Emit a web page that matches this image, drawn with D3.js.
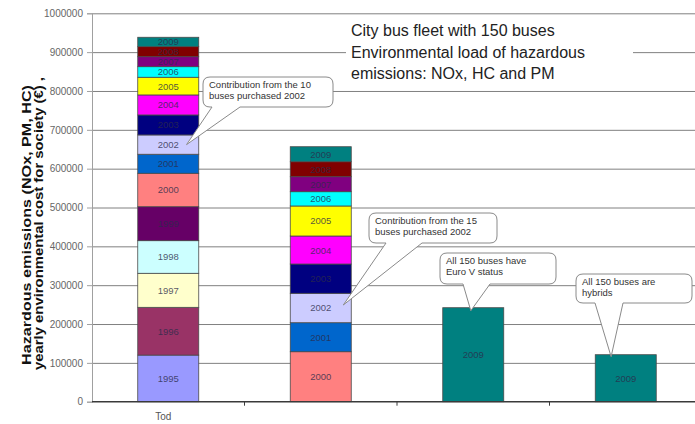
<!DOCTYPE html>
<html>
<head>
<meta charset="utf-8">
<script src="https://cdn.jsdelivr.net/npm/d3@7"></script>
<style>
  body { margin: 0; background: #fff; }
  svg { display: block; font-family: "Liberation Sans", Arial, sans-serif; }
</style>
</head>
<body>
<div id="chart"></div>
<script>
// ---- data ----
const years = [1995, 1996, 1997, 1998, 1999, 2000, 2001, 2002, 2003, 2004, 2005, 2006, 2007, 2008, 2009];
const yearColors = ['#9999FF', '#993366', '#FFFFCC', '#CCFFFF', '#660066', '#FF8080', '#0066CC', '#CCCCFF',
                    '#000080', '#FF00FF', '#FFFF00', '#00FFFF', '#800080', '#800000', '#008080'];

const scenarios = ['today', 'fleet', 'euro5', 'hybrid'];
const scenarioLabels = ['Tod', '', '', ''];

// values per year, same order as years
const todayValues  = [120000, 123000, 87600, 84000, 87500, 86000, 49000, 49700, 51500, 51500, 45500, 27300, 25700, 25800, 24200];
const fleetValues  = [0, 0, 0, 0, 0, 128700, 74700, 75700, 75400, 72100, 77300, 36800, 38600, 38600, 38600];
const euro5Values  = [0, 0, 0, 0, 0, 0, 0, 0, 0, 0, 0, 0, 0, 0, 242000];
const hybridValues = [0, 0, 0, 0, 0, 0, 0, 0, 0, 0, 0, 0, 0, 0, 121000];

const yTicks = [0, 100000, 200000, 300000, 400000, 500000, 600000, 700000, 800000, 900000, 1000000];

const titleLines = ['City bus fleet with 150 buses', 'Environmental load of hazardous', 'emissions: NOx, HC and PM'];
const yTitleLines = ['Hazardous emissions (NOx, PM, HC)', 'yearly environmental cost for society (\u20AC)  ,'];

const width = 695, height = 424;

// build table for d3.stack
const valueRows = [todayValues, fleetValues, euro5Values, hybridValues];
const table = scenarios.map((s, i) => {
  const row = { scenario: s };
  years.forEach((y, j) => row[y] = valueRows[i][j]);
  return row;
});
const series = d3.stack().keys(years)(table);

const svg = d3.select('#chart').append('svg')
  .attr('width', width).attr('height', height);

const x = d3.scaleBand()
  .domain(scenarios)
  .range([92, 702])
  .paddingInner(0.6)
  .paddingOuter(0.3);

const y = d3.scaleLinear()
  .domain([0, 1000000])
  .range([401.7, 13.3]);

// gridlines
const grid = svg.append('g')
  .attr('transform', 'translate(92,0)')
  .call(d3.axisLeft(y).tickValues(yTicks.slice(1)).tickFormat('').tickSize(-(702 - 92)));
grid.select('.domain').remove();
grid.selectAll('line').attr('stroke', '#808080').attr('stroke-width', 1);

// y axis
const yAxis = svg.append('g')
  .attr('transform', 'translate(92,0)')
  .call(d3.axisLeft(y).tickValues(yTicks).tickFormat(d3.format('d')).tickSize(5).tickPadding(4));
yAxis.select('.domain').attr('stroke', '#a0a0a0');
yAxis.selectAll('.tick line').attr('stroke', '#a0a0a0');
yAxis.selectAll('text').attr('fill', '#666').style('font-size', '10px')
  .style('font-family', '"Liberation Sans", Arial, sans-serif');

// title box (white, covers the gridline)
svg.append('rect')
  .attr('x', 346).attr('y', 20).attr('width', 287).attr('height', 64)
  .attr('fill', '#fff');
svg.append('g').selectAll('text')
  .data(titleLines)
  .join('text')
  .attr('x', 351)
  .attr('y', (d, i) => 36 + i * 21.5)
  .attr('fill', '#222')
  .style('font-size', '16px')
  .text(d => d);

// bars
const segs = svg.append('g').selectAll('g')
  .data(series)
  .join('g')
  .attr('fill', (d, i) => yearColors[i]);

segs.selectAll('rect')
  .data(d => d.map(p => ({ p, key: d.key })).filter(o => o.p[1] - o.p[0] > 0))
  .join('rect')
  .attr('x', o => x(o.p.data.scenario))
  .attr('y', o => y(o.p[1]))
  .attr('width', x.bandwidth())
  .attr('height', o => y(o.p[0]) - y(o.p[1]))
  .attr('stroke', '#4a4a4a')
  .attr('stroke-width', 0.8);

segs.selectAll('text')
  .data(d => d.map(p => ({ p, key: d.key })).filter(o => o.p[1] - o.p[0] > 0))
  .join('text')
  .attr('x', o => x(o.p.data.scenario) + x.bandwidth() / 2)
  .attr('y', o => (y(o.p[0]) + y(o.p[1])) / 2 + 3.5)
  .attr('text-anchor', 'middle')
  .attr('fill', '#2b2b4a')
  .attr('fill-opacity', 0.8)
  .style('font-size', '9.5px')
  .text(o => o.key);

// x axis
svg.append('line')
  .attr('x1', 92).attr('x2', 702)
  .attr('y1', y(0)).attr('y2', y(0))
  .attr('stroke', '#3a3a3a').attr('stroke-width', 1.5);
svg.append('g').selectAll('line')
  .data(scenarios.slice(1))
  .join('line')
  .attr('x1', d => x(d) - x.step() * 0.3)
  .attr('x2', d => x(d) - x.step() * 0.3)
  .attr('y1', y(0)).attr('y2', y(0) + 4)
  .attr('stroke', '#3a3a3a');
svg.append('g').selectAll('text')
  .data(scenarios)
  .join('text')
  .attr('x', (d, i) => x(d) + x.bandwidth() / 2 - 5)
  .attr('y', 420)
  .attr('text-anchor', 'middle')
  .attr('fill', '#555')
  .style('font-size', '10px')
  .text((d, i) => scenarioLabels[i]);

// y title
svg.append('text')
  .attr('transform', 'translate(30.5,225) rotate(-90)')
  .attr('text-anchor', 'middle')
  .attr('textLength', 280).attr('lengthAdjust', 'spacingAndGlyphs')
  .attr('fill', '#111')
  .style('font-size', '12px').style('font-weight', 'bold')
  .text(yTitleLines[0]);
svg.append('text')
  .attr('transform', 'translate(42.5,223.5) rotate(-90)')
  .attr('text-anchor', 'middle')
  .attr('textLength', 293).attr('lengthAdjust', 'spacingAndGlyphs')
  .attr('fill', '#111')
  .style('font-size', '12px').style('font-weight', 'bold')
  .text(yTitleLines[1]);

// callouts
function segMid(scn, yr) {
  const s = series[years.indexOf(yr)][scenarios.indexOf(scn)];
  return y((s[0] + s[1]) / 2);
}
function barTop(scn) {
  const last = series[series.length - 1][scenarios.indexOf(scn)];
  return y(last[1]);
}
const callouts = [
  { lines: ['Contribution from the 10', 'buses purchased 2002'], box: [203, 77, 130, 30], tail: [212, 240],
    tip: [x('today') + x.bandwidth() * 0.8, segMid('today', 2002)] },
  { lines: ['Contribution from the 15', 'buses purchased 2002'], box: [369, 213, 128, 30], tail: [386, 422],
    tip: [x('fleet') + x.bandwidth() * 0.87, segMid('fleet', 2002) - 3] },
  { lines: ['All 150 buses have', 'Euro V status'], box: [440, 253, 116, 31], tail: [463, 490],
    tip: [x('euro5') + x.bandwidth() * 0.46, barTop('euro5') + 3] },
  { lines: ['All 150 buses are', 'hybrids'], box: [576, 274, 116, 29], tail: [595, 623],
    tip: [x('hybrid') + x.bandwidth() * 0.26, barTop('hybrid') + 2] }
];

function calloutPath(c) {
  const [bx, by, bw, bh] = c.box, r = 7;
  const [t1, t2] = c.tail, [tx, ty] = c.tip;
  return `M${bx + r},${by} H${bx + bw - r} Q${bx + bw},${by} ${bx + bw},${by + r} V${by + bh - r} ` +
    `Q${bx + bw},${by + bh} ${bx + bw - r},${by + bh} H${t2} L${tx},${ty} L${t1},${by + bh} H${bx + r} ` +
    `Q${bx},${by + bh} ${bx},${by + bh - r} V${by + r} Q${bx},${by} ${bx + r},${by} Z`;
}

const cg = svg.append('g').selectAll('g')
  .data(callouts)
  .join('g');
cg.append('path')
  .attr('d', calloutPath)
  .attr('fill', '#fff')
  .attr('stroke', '#8a8a8a')
  .attr('stroke-width', 1);
cg.selectAll('text')
  .data(c => c.lines.map((t, i) => ({ t, i, c })))
  .join('text')
  .attr('x', d => d.c.box[0] + 6)
  .attr('y', d => d.c.box[1] + 11 + d.i * 11)
  .attr('fill', '#333')
  .style('font-size', '9.5px')
  .text(d => d.t);
</script>
</body>
</html>
